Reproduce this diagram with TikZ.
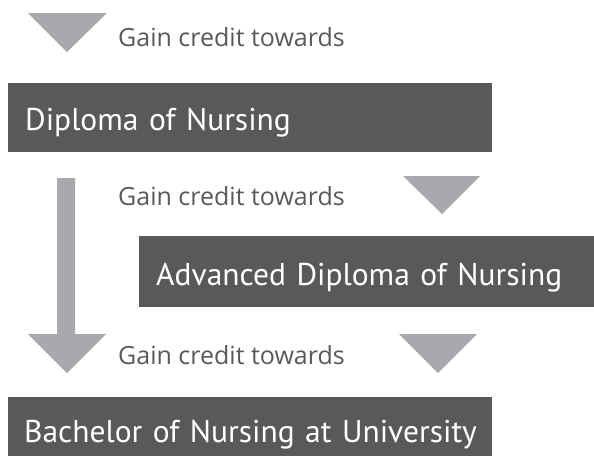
\documentclass[tikz,border=0pt]{standalone}
\usepackage{fontspec}
\setmainfont{Open Sans}
\newfontfamily\boxfont{PT Sans}
\definecolor{boxgray}{HTML}{58595B}
\definecolor{arrowgray}{HTML}{A7A9AC}
\definecolor{labelgray}{HTML}{58595B}
\begin{document}
\begin{tikzpicture}[x=1pt,y=-1pt,
  stagebox/.style={fill=boxgray,text=white,anchor=north west,inner ysep=0pt,align=left,
    font=\boxfont\fontsize{31.5}{31.5}\selectfont},
  gainlabel/.style={text=labelgray,anchor=base west,inner sep=0pt,font=\fontsize{25}{25}\selectfont},
  tri/.style={fill=arrowgray}]
\useasboundingbox (0,0) rectangle (594,456);
\clip (0,0) rectangle (594,456);
% boxes
\node[stagebox,inner xsep=17pt,text width=450pt,text height=47pt,text depth=22pt] (dip) at (8,83) {\mbox{Diploma of Nursing}};
\node[stagebox,inner xsep=17pt,text width=421pt,text height=49pt,text depth=22pt] (adv) at (139,236) {\mbox{Advanced Diploma of Nursing}};
\node[stagebox,inner xsep=16pt,text width=452pt,text height=45pt,text depth=14pt] (bach) at (8,397) {\mbox{Bachelor of Nursing at University}};
% labels
\node[gainlabel] (g1) at (118,46) {Gain credit towards};
\node[gainlabel] (g2) at (118,205) {Gain credit towards};
\node[gainlabel] (g3) at (118,364) {Gain credit towards};
% triangles
\fill[tri] (28,13) -- (107,13) -- (67,52) -- cycle;
\fill[tri] (403,176) -- (480,176) -- (442,214) -- cycle;
\fill[tri] (399,334) -- (477,334) -- (438,373) -- cycle;
% long arrow
\fill[tri] (57,178) -- (75,178) -- (75,334) -- (106,334) -- (67,373) -- (28,334) -- (57,334) -- cycle;
\end{tikzpicture}
\end{document}
